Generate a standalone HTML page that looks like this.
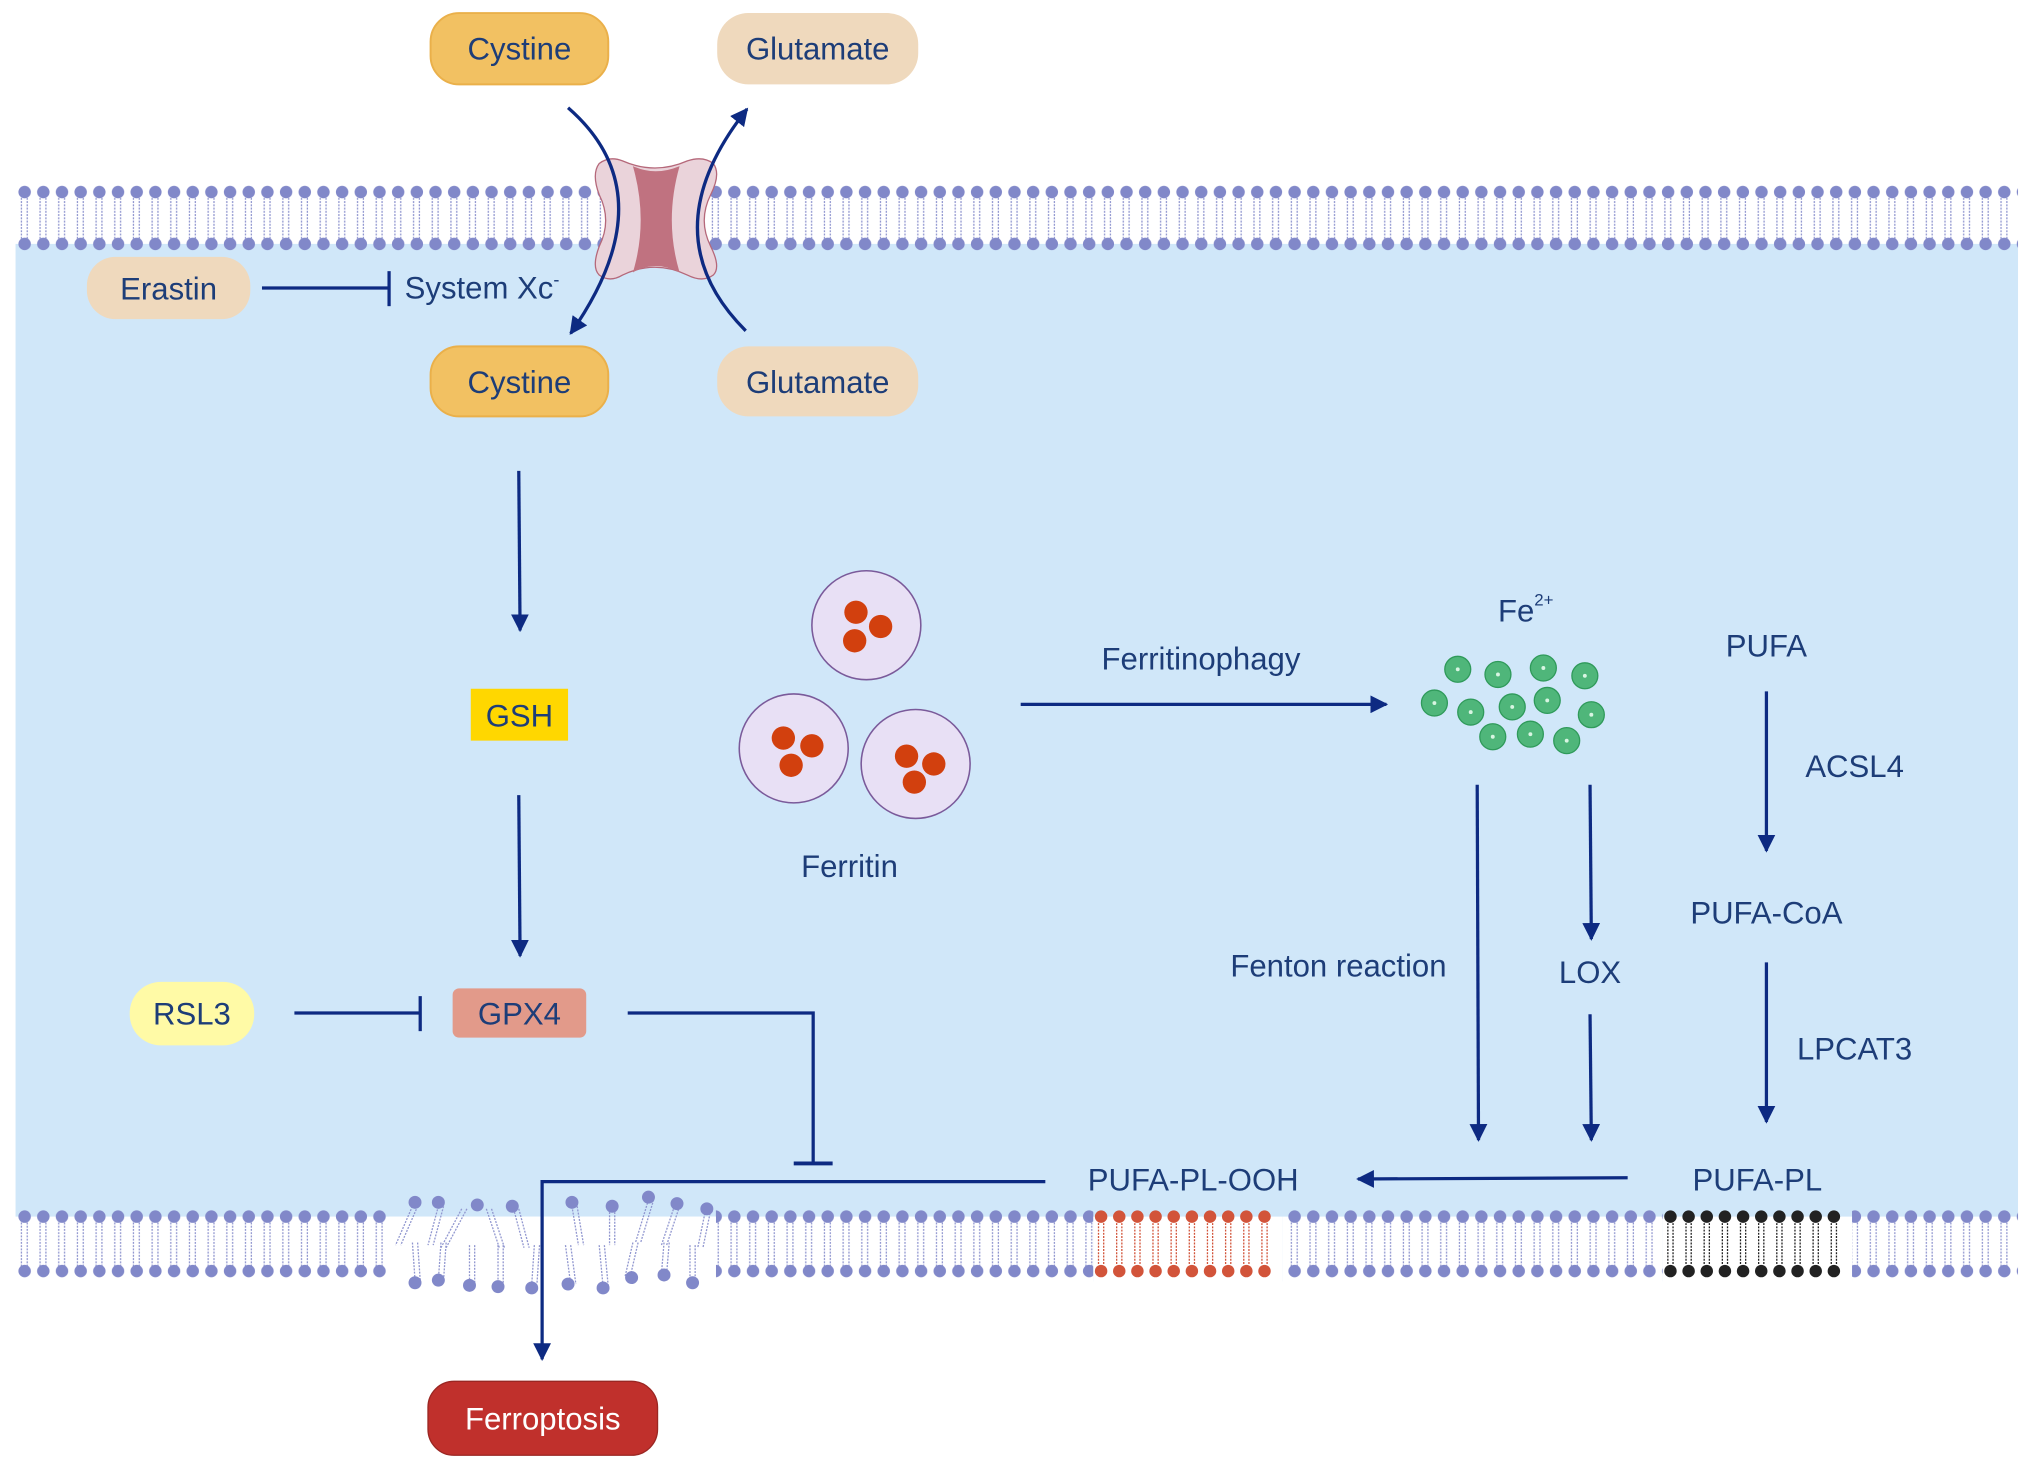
<!DOCTYPE html>
<html><head><meta charset="utf-8"><style>
html,body{margin:0;padding:0;background:#fff;}
svg{display:block;}
text{font-family:"Liberation Sans",sans-serif;fill:#1d3d78;}
</style></head><body>
<svg width="2031" height="1467" viewBox="0 0 1566 1131" xmlns="http://www.w3.org/2000/svg">
<defs>
<pattern id="lip" x="12" y="0" width="14.4" height="1131" patternUnits="userSpaceOnUse">
  <g stroke="#9096cf" stroke-width="1" stroke-dasharray="1.5 1">
    <line x1="4.5" y1="0" x2="4.5" y2="1131"/><line x1="9" y1="0" x2="9" y2="1131"/>
  </g>
</pattern>
<pattern id="heads" x="12" y="0" width="14.4" height="1131" patternUnits="userSpaceOnUse">
  <circle cx="7" cy="148" r="4.8" fill="#8188c9"/><circle cx="7" cy="188" r="4.8" fill="#8188c9"/>
  <circle cx="7" cy="938" r="4.8" fill="#8188c9"/><circle cx="7" cy="980" r="4.8" fill="#8188c9"/>
</pattern>
<marker id="ar" viewBox="0 0 10 10" refX="9" refY="5" markerWidth="5.5" markerHeight="5.5" orient="auto-start-reverse">
  <path d="M0,0 L10,5 L0,10 z" fill="#0d2a82"/>
</marker>
</defs>

<rect x="12" y="188" width="1544" height="750" fill="#d0e7f9"/>

<rect x="12" y="150" width="1544" height="36" fill="url(#lip)"/>
<rect x="12" y="142" width="1544" height="12" fill="url(#heads)"/>
<rect x="12" y="182" width="1544" height="12" fill="url(#heads)"/>

<g>
<rect x="12" y="940" width="288" height="38" fill="url(#lip)"/>
<rect x="12" y="932" width="288" height="12" fill="url(#heads)"/>
<rect x="12" y="974" width="288" height="12" fill="url(#heads)"/>
<rect x="552" y="940" width="1004" height="38" fill="url(#lip)"/>
<rect x="552" y="932" width="1004" height="12" fill="url(#heads)"/>
<rect x="552" y="974" width="1004" height="12" fill="url(#heads)"/>
<rect x="843" y="930" width="146" height="58" fill="#d0e7f9"/>
<rect x="843" y="938" width="146" height="52" fill="#fff"/>
<g fill="#d2543a">
<circle cx="849" cy="938" r="4.8"/><circle cx="863" cy="938" r="4.8"/><circle cx="877" cy="938" r="4.8"/><circle cx="891" cy="938" r="4.8"/><circle cx="905" cy="938" r="4.8"/><circle cx="919" cy="938" r="4.8"/><circle cx="933" cy="938" r="4.8"/><circle cx="947" cy="938" r="4.8"/><circle cx="961" cy="938" r="4.8"/><circle cx="975" cy="938" r="4.8"/>
<circle cx="849" cy="980" r="4.8"/><circle cx="863" cy="980" r="4.8"/><circle cx="877" cy="980" r="4.8"/><circle cx="891" cy="980" r="4.8"/><circle cx="905" cy="980" r="4.8"/><circle cx="919" cy="980" r="4.8"/><circle cx="933" cy="980" r="4.8"/><circle cx="947" cy="980" r="4.8"/><circle cx="961" cy="980" r="4.8"/><circle cx="975" cy="980" r="4.8"/>
</g>
<g stroke="#d2543a" stroke-dasharray="1.5 1">
<path d="M847,943V975M851,943V975M861,943V975M865,943V975M875,943V975M879,943V975M889,943V975M893,943V975M903,943V975M907,943V975M917,943V975M921,943V975M931,943V975M935,943V975M945,943V975M949,943V975M959,943V975M963,943V975M973,943V975M977,943V975"/>
</g>
<rect x="1282" y="930" width="146" height="58" fill="#d0e7f9"/>
<rect x="1282" y="938" width="146" height="52" fill="#fff"/>
<g fill="#222">
<circle cx="1288" cy="938" r="4.8"/><circle cx="1302" cy="938" r="4.8"/><circle cx="1316" cy="938" r="4.8"/><circle cx="1330" cy="938" r="4.8"/><circle cx="1344" cy="938" r="4.8"/><circle cx="1358" cy="938" r="4.8"/><circle cx="1372" cy="938" r="4.8"/><circle cx="1386" cy="938" r="4.8"/><circle cx="1400" cy="938" r="4.8"/><circle cx="1414" cy="938" r="4.8"/>
<circle cx="1288" cy="980" r="4.8"/><circle cx="1302" cy="980" r="4.8"/><circle cx="1316" cy="980" r="4.8"/><circle cx="1330" cy="980" r="4.8"/><circle cx="1344" cy="980" r="4.8"/><circle cx="1358" cy="980" r="4.8"/><circle cx="1372" cy="980" r="4.8"/><circle cx="1386" cy="980" r="4.8"/><circle cx="1400" cy="980" r="4.8"/><circle cx="1414" cy="980" r="4.8"/>
</g>
<g stroke="#222" stroke-dasharray="1.5 1">
<path d="M1286,943V975M1290,943V975M1300,943V975M1304,943V975M1314,943V975M1318,943V975M1328,943V975M1332,943V975M1342,943V975M1346,943V975M1356,943V975M1360,943V975M1370,943V975M1374,943V975M1384,943V975M1388,943V975M1398,943V975M1402,943V975M1412,943V975M1416,943V975"/>
</g>
<rect x="300" y="938" width="252" height="52" fill="#fff"/>
<g stroke="#9096cf" stroke-dasharray="1.5 1" fill="none">
<path d="M318,930L305,960M322,930L309,960M338,930L330,960M342,930L334,960M356,932L340,962M360,932L344,962M375,932L385,962M379,932L389,962M396,932L404,962M400,932L408,962M441,930L446,960M445,930L450,960M470,932L470,960M474,932L474,960M500,925L490,958M504,925L494,958M520,930L510,960M524,930L514,960M544,933L538,962M548,933L542,962"/>
<path d="M318,958L320,987M322,958L324,987M340,958L338,987M344,958L342,987M362,960L362,990M366,960L366,990M384,960L384,992M388,960L388,992M412,960L410,990M416,960L414,990M436,960L440,990M440,960L444,990M462,960L465,992M466,960L469,992M488,958L482,984M492,958L486,984M512,958L510,982M516,958L514,982M532,960L532,988M536,960L536,988"/>
</g>
<g fill="#8188c9">
<circle cx="320" cy="927" r="5"/><circle cx="338" cy="927" r="5"/><circle cx="368" cy="929" r="5"/><circle cx="395" cy="930" r="5"/><circle cx="441" cy="927" r="5"/><circle cx="472" cy="930" r="5"/><circle cx="500" cy="923" r="5"/><circle cx="522" cy="928" r="5"/><circle cx="545" cy="932" r="5"/>
<circle cx="320" cy="989" r="5"/><circle cx="338" cy="987" r="5"/><circle cx="362" cy="991" r="5"/><circle cx="384" cy="992" r="5"/><circle cx="410" cy="993" r="5"/><circle cx="438" cy="990" r="5"/><circle cx="465" cy="993" r="5"/><circle cx="487" cy="985" r="5"/><circle cx="512" cy="983" r="5"/><circle cx="534" cy="989" r="5"/>
</g>
</g>

<path d="M462,126 Q470,120 480,124 Q505,135 530,124 Q542,120 550,126 Q556,134 548,150 Q538,170 548,190 Q556,206 550,212 Q542,218 530,212 Q505,200 480,212 Q470,218 462,212 Q456,206 462,190 Q472,170 462,150 Q456,134 462,126 Z" fill="#ead3da" stroke="#b5687a" stroke-width="1"/>
<path d="M488,128 Q505,136 524,128 Q512,170 524,210 Q505,200 488,210 Q500,170 488,128 Z" fill="#c07280"/>

<path d="M438,83 Q515,150 440,257" fill="none" stroke="#0d2a82" stroke-width="2.5" marker-end="url(#ar)"/>
<path d="M575,255 Q500,180 576,84" fill="none" stroke="#0d2a82" stroke-width="2.5" marker-end="url(#ar)"/>

<rect x="332" y="10" width="137" height="55" rx="22" fill="#f2c162" stroke="#eab04a" stroke-width="1.5"/>
<text x="400.5" y="46" font-size="24" text-anchor="middle">Cystine</text>
<rect x="553" y="10" width="155" height="55" rx="24" fill="#efd9bd"/>
<text x="630.5" y="46" font-size="24" text-anchor="middle">Glutamate</text>
<rect x="332" y="267" width="137" height="54" rx="22" fill="#f2c162" stroke="#eab04a" stroke-width="1.5"/>
<text x="400.5" y="303" font-size="24" text-anchor="middle">Cystine</text>
<rect x="553" y="267" width="155" height="54" rx="24" fill="#efd9bd"/>
<text x="630.5" y="303" font-size="24" text-anchor="middle">Glutamate</text>
<rect x="67" y="198" width="126" height="48" rx="22" fill="#efd9bd"/>
<text x="130" y="231" font-size="24" text-anchor="middle">Erastin</text>
<text x="312" y="230" font-size="24">System Xc<tspan font-size="14" dy="-10">-</tspan></text>
<line x1="202" y1="222" x2="300" y2="222" stroke="#0d2a82" stroke-width="2.5"/>
<line x1="300" y1="209" x2="300" y2="236" stroke="#0d2a82" stroke-width="2.5"/>

<line x1="400" y1="363" x2="401" y2="486" stroke="#0d2a82" stroke-width="2.5" marker-end="url(#ar)"/>
<rect x="363" y="531" width="75" height="40" fill="#ffd700"/>
<text x="400.5" y="560" font-size="24" text-anchor="middle">GSH</text>
<line x1="400" y1="613" x2="401" y2="737" stroke="#0d2a82" stroke-width="2.5" marker-end="url(#ar)"/>
<rect x="349" y="762" width="103" height="38" rx="5" fill="#e29a8a"/>
<text x="400.5" y="790" font-size="24" text-anchor="middle">GPX4</text>
<rect x="100" y="757" width="96" height="49" rx="24" fill="#fffaa6"/>
<text x="148" y="790" font-size="24" text-anchor="middle">RSL3</text>
<line x1="227" y1="781" x2="324" y2="781" stroke="#0d2a82" stroke-width="2.5"/>
<line x1="324" y1="768" x2="324" y2="795" stroke="#0d2a82" stroke-width="2.5"/>
<polyline points="484,781 627,781 627,897" fill="none" stroke="#0d2a82" stroke-width="2.5"/>
<line x1="612" y1="897" x2="642" y2="897" stroke="#0d2a82" stroke-width="3"/>

<g stroke="#7a5a9a" stroke-width="1.2" fill="#e8e0f5">
<circle cx="668" cy="482" r="42"/><circle cx="612" cy="577" r="42"/><circle cx="706" cy="589" r="42"/>
</g>
<g fill="#d2400e">
<circle cx="660" cy="472" r="9"/><circle cx="679" cy="483" r="9"/><circle cx="659" cy="494" r="9"/>
<circle cx="604" cy="569" r="9"/><circle cx="626" cy="575" r="9"/><circle cx="610" cy="590" r="9"/>
<circle cx="699" cy="583" r="9"/><circle cx="720" cy="589" r="9"/><circle cx="705" cy="603" r="9"/>
</g>
<text x="655" y="676" font-size="24" text-anchor="middle">Ferritin</text>
<line x1="787" y1="543" x2="1069" y2="543" stroke="#0d2a82" stroke-width="2.5" marker-end="url(#ar)"/>
<text x="926" y="516" font-size="24" text-anchor="middle">Ferritinophagy</text>

<text x="1155" y="479" font-size="24">Fe<tspan font-size="13" dy="-12">2+</tspan></text>
<g fill="#4fb67a" stroke="#2f9a5a" stroke-width="1">
<circle cx="1124" cy="516" r="10"/><circle cx="1155" cy="520" r="10"/><circle cx="1190" cy="515" r="10"/><circle cx="1222" cy="521" r="10"/>
<circle cx="1106" cy="542" r="10"/><circle cx="1134" cy="549" r="10"/><circle cx="1166" cy="545" r="10"/><circle cx="1193" cy="540" r="10"/><circle cx="1227" cy="551" r="10"/>
<circle cx="1151" cy="568" r="10"/><circle cx="1180" cy="566" r="10"/><circle cx="1208" cy="571" r="10"/>
</g>
<g fill="#d8f5e2">
<circle cx="1124" cy="516" r="1.5"/><circle cx="1155" cy="520" r="1.5"/><circle cx="1190" cy="515" r="1.5"/><circle cx="1222" cy="521" r="1.5"/><circle cx="1106" cy="542" r="1.5"/><circle cx="1134" cy="549" r="1.5"/><circle cx="1166" cy="545" r="1.5"/><circle cx="1193" cy="540" r="1.5"/><circle cx="1227" cy="551" r="1.5"/><circle cx="1151" cy="568" r="1.5"/><circle cx="1180" cy="566" r="1.5"/><circle cx="1208" cy="571" r="1.5"/>
</g>
<line x1="1139" y1="605" x2="1140" y2="879" stroke="#0d2a82" stroke-width="2.5" marker-end="url(#ar)"/>
<line x1="1226" y1="605" x2="1227" y2="724" stroke="#0d2a82" stroke-width="2.5" marker-end="url(#ar)"/>
<line x1="1226" y1="782" x2="1227" y2="879" stroke="#0d2a82" stroke-width="2.5" marker-end="url(#ar)"/>
<text x="1032" y="753" font-size="24" text-anchor="middle">Fenton reaction</text>
<text x="1226" y="758" font-size="24" text-anchor="middle">LOX</text>

<text x="1362" y="506" font-size="24" text-anchor="middle">PUFA</text>
<line x1="1362" y1="533" x2="1362" y2="656" stroke="#0d2a82" stroke-width="2.5" marker-end="url(#ar)"/>
<text x="1430" y="599" font-size="24" text-anchor="middle">ACSL4</text>
<text x="1362" y="712" font-size="24" text-anchor="middle">PUFA-CoA</text>
<line x1="1362" y1="742" x2="1362" y2="865" stroke="#0d2a82" stroke-width="2.5" marker-end="url(#ar)"/>
<text x="1430" y="817" font-size="24" text-anchor="middle">LPCAT3</text>
<text x="1355" y="918" font-size="24" text-anchor="middle">PUFA-PL</text>
<line x1="1255" y1="908" x2="1047" y2="909" stroke="#0d2a82" stroke-width="2.5" marker-end="url(#ar)"/>
<text x="920" y="918" font-size="24" text-anchor="middle">PUFA-PL-OOH</text>
<polyline points="806,911 418,911 418,1048" fill="none" stroke="#0d2a82" stroke-width="2.5" marker-end="url(#ar)"/>

<rect x="330" y="1065" width="177" height="57" rx="20" fill="#c0302c" stroke="#9a2622" stroke-width="1"/>
<text x="418.5" y="1102" font-size="24" text-anchor="middle" style="fill:#fff">Ferroptosis</text>
</svg>
</body></html>
